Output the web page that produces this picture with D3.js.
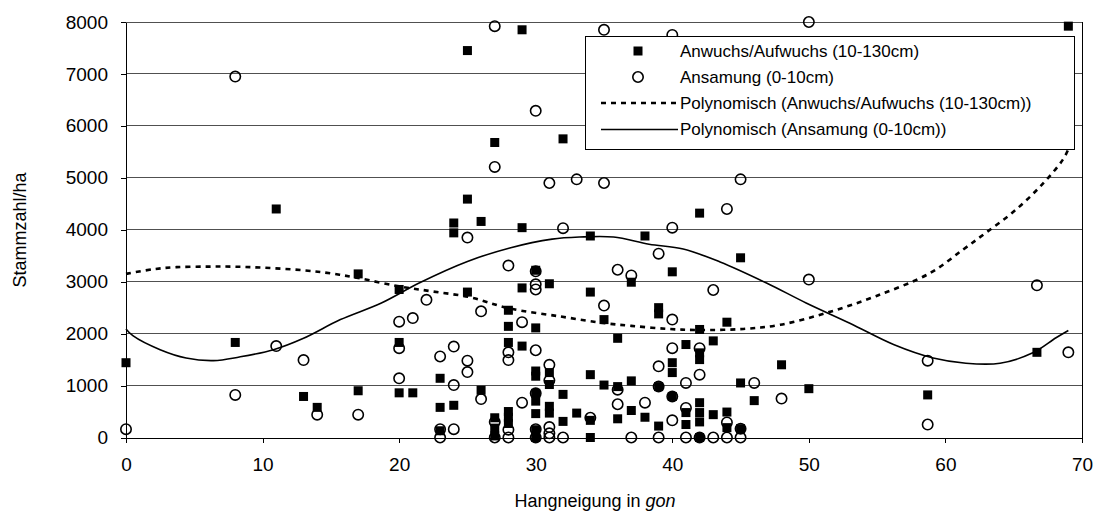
<!DOCTYPE html>
<html><head><meta charset="utf-8">
<script src="https://cdn.jsdelivr.net/npm/d3@7"></script>
<style>
body{margin:0;background:#fff;}
svg{display:block;font-family:"Liberation Sans",Arial,sans-serif;}
</style></head>
<body><svg id="c" width="1097" height="514"></svg>
<script>
// Anwuchs/Aufwuchs (10-130cm): [Hangneigung gon, Stammzahl/ha]
const anwuchsX = [0,8,11,13,14,17,17,20,20,20,21,23,23,23,24,24,24,25,25,25,26,26,27,27,27,27,28,28,28,28,28,28,29,29,29,29,30,30,30,30,30,30,30,30,30,31,31,31,31,31,32,32,32,33,34,34,34,34,34,35,35,36,36,36,37,37,37,38,38,39,39,39,39,40,40,40,40,41,41,41,42,42,42,42,42,42,42,42,43,43,44,44,44,45,45,45,46,48,50,58.7,66.7,69];
const anwuchsY = [1440,1830,4400,790,580,900,3150,2850,1830,860,860,1140,580,130,4130,3940,620,7450,4590,2800,4160,910,5680,380,180,30,2450,2140,1830,500,390,270,7850,4040,2880,1760,3220,2110,1280,1180,850,700,460,150,0,2960,1250,1020,600,470,5750,830,310,470,3880,2800,1210,330,0,2270,1010,1910,980,360,2990,1090,520,3880,390,2500,2380,980,220,3190,1440,1250,790,1790,480,250,4320,2080,1630,1500,670,480,300,0,1860,440,2220,490,190,3460,1050,170,710,1400,940,820,1640,7920];
// Ansamung (0-10cm)
const ansamungX = [0,8,8,11,13,14,17,20,20,20,21,22,23,23,23,24,24,24,25,25,25,26,26,27,27,27,27,28,28,28,28,28,29,29,30,30,30,30,30,30,30,30,31,31,31,31,31,31,32,32,33,34,35,35,35,36,36,36,37,37,38,39,39,39,39,40,40,40,40,40,40,41,41,41,42,42,42,43,43,44,44,44,45,45,45,46,48,50,50,58.7,58.7,66.7,69];
const ansamungY = [160,6950,820,1760,1490,440,440,2230,1720,1140,2300,2650,1560,160,0,1750,1010,160,3850,1480,1260,2430,740,7920,5210,300,0,3310,1640,1490,150,0,2220,670,6290,3200,2950,2850,1680,850,160,0,4900,1400,1100,200,80,0,4030,0,4970,380,7850,4900,2540,3230,920,640,3120,0,670,3540,1370,980,0,7750,4040,2270,1720,790,330,1050,570,0,1720,1210,0,2840,0,4400,290,0,4970,170,0,1050,750,8000,3040,1480,250,2930,1640];
// Polynomial trend lines
const trendAnwuchsX = [0,2,3.7,6,7.8,10,13,15,17,20,22.5,25.2,28,31.8,35.1,37,39.7,42,45.2,47.9,51.3,54.9,58.9,61.3,63,65,67,68.6,69];
const trendAnwuchsY = [3150,3240,3280,3290,3290,3270,3220,3160,3070,2910,2810,2700,2490,2330,2200,2150,2090,2070,2090,2170,2400,2720,3170,3620,3950,4350,4850,5350,5550];
const trendAnsamungX = [0,0.5,2.5,4.4,6.4,8.3,10.8,13,15.7,18.7,21.5,25,28.1,31.2,33.2,35.7,38.3,40.8,43.5,46.9,49.8,53,56.2,59.1,61.5,64,66.4,68.1,69];
const trendAnsamungY = [2090,1960,1690,1530,1480,1550,1690,1910,2270,2590,2980,3390,3650,3820,3860,3860,3720,3630,3380,2975,2590,2200,1790,1530,1430,1430,1630,1920,2060];
const xTicks = [0,10,20,30,40,50,60,70];
const yTicks = [0,1000,2000,3000,4000,5000,6000,7000,8000];
const legendLabels = ["Anwuchs/Aufwuchs (10-130cm)","Ansamung (0-10cm)","Polynomisch (Anwuchs/Aufwuchs (10-130cm))","Polynomisch (Ansamung (0-10cm))"];

const svg = d3.select("#c");
const L=126,R=1082,T=22,B=437.5;
const x = d3.scaleLinear().domain([0,70]).range([L,R]);
const y = d3.scaleLinear().domain([0,8000]).range([B,T]);

// gridlines
svg.append("g").selectAll("line").data(yTicks.filter(d=>d>0)).join("line")
  .attr("x1",L).attr("x2",R).attr("y1",d=>y(d)).attr("y2",d=>y(d))
  .attr("stroke","#505050").attr("stroke-width",1).attr("shape-rendering","crispEdges");
// right border
svg.append("line").attr("x1",R).attr("x2",R).attr("y1",T).attr("y2",B)
  .attr("stroke","#000").attr("shape-rendering","crispEdges");

// axes
const ax = svg.append("g").attr("transform",`translate(0,${B})`)
  .call(d3.axisBottom(x).tickValues(xTicks).tickSize(5).tickPadding(15).tickSizeOuter(0));
const ay = svg.append("g").attr("transform",`translate(${L},0)`)
  .call(d3.axisLeft(y).tickValues(yTicks).tickFormat(d3.format("d")).tickSize(5).tickPadding(13).tickSizeOuter(0));
[ax,ay].forEach(g=>{
  g.selectAll("path,line").attr("stroke","#000").attr("shape-rendering","crispEdges");
  g.selectAll("text").attr("fill","#000").style("font-size","19px").style("font-family","Liberation Sans, Arial, sans-serif");
});

// trend lines
const line = d3.line().x(d=>x(d[0])).y(d=>y(d[1])).curve(d3.curveCatmullRom);
svg.append("path").datum(d3.zip(trendAnwuchsX,trendAnwuchsY)).attr("d",line)
  .attr("fill","none").attr("stroke","#000").attr("stroke-width",2.6).attr("stroke-dasharray","5,5");
svg.append("path").datum(d3.zip(trendAnsamungX,trendAnsamungY)).attr("d",line)
  .attr("fill","none").attr("stroke","#000").attr("stroke-width",1.6);

// points
const S=9;
svg.append("g").selectAll("rect").data(d3.zip(anwuchsX,anwuchsY)).join("rect")
  .attr("x",d=>x(d[0])-S/2).attr("y",d=>y(d[1])-S/2).attr("width",S).attr("height",S).attr("fill","#000");
svg.append("g").selectAll("circle").data(d3.zip(ansamungX,ansamungY)).join("circle")
  .attr("cx",d=>x(d[0])).attr("cy",d=>y(d[1])).attr("r",5.2)
  .attr("fill","none").attr("stroke","#000").attr("stroke-width",1.6);

// axis titles
svg.append("text").attr("transform","translate(26,230) rotate(-90)").attr("text-anchor","middle")
  .style("font-size","18px").text("Stammzahl/ha");
const xt = svg.append("text").attr("x",595).attr("y",507).attr("text-anchor","middle").style("font-size","18px");
xt.append("tspan").text("Hangneigung in ");
xt.append("tspan").style("font-style","italic").text("gon");

// legend
const lg = svg.append("g");
lg.append("rect").attr("x",585.5).attr("y",36.5).attr("width",489).attr("height",113)
  .attr("fill","#fff").attr("stroke","#000");
const rows=[51,77,103,129.5];
lg.append("rect").attr("x",638-S/2).attr("y",rows[0]-S/2).attr("width",S).attr("height",S).attr("fill","#000");
lg.append("circle").attr("cx",638).attr("cy",rows[1]).attr("r",5.2).attr("fill","none").attr("stroke","#000").attr("stroke-width",1.6);
lg.append("line").attr("x1",601).attr("x2",679).attr("y1",rows[2]).attr("y2",rows[2])
  .attr("stroke","#000").attr("stroke-width",2.6).attr("stroke-dasharray","5,5");
lg.append("line").attr("x1",601).attr("x2",678).attr("y1",rows[3]).attr("y2",rows[3])
  .attr("stroke","#000").attr("stroke-width",1.6);
lg.selectAll("text.l").data(legendLabels).join("text").attr("class","l")
  .attr("x",680).attr("y",(d,i)=>rows[i]).attr("dy","0.35em").style("font-size","17px").text(d=>d);
</script></body></html>
